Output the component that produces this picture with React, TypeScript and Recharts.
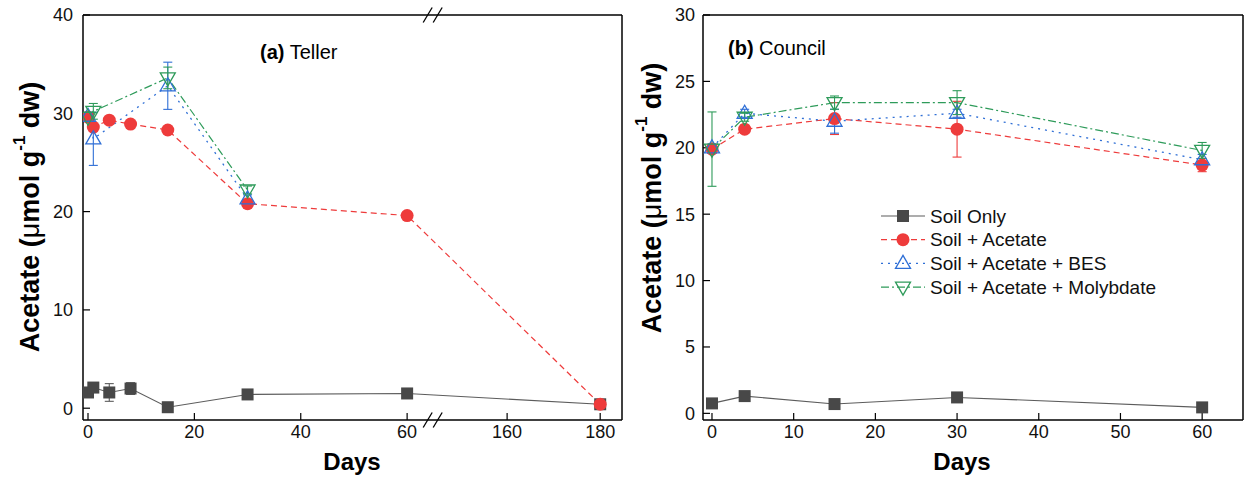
import React from 'react';
import { LineChart, Line, XAxis, YAxis, ErrorBar, ReferenceDot, Legend } from 'recharts';

const FONT = '"Liberation Sans", Arial, Helvetica, sans-serif';

// ---------- (a) Teller ----------
const tellerDays = [0, 1, 4, 8, 15, 30, 60, 180];
const tellerSoil = [1.6, 2.1, 1.6, 2.0, 0.1, 1.4, 1.5, 0.4];
const tellerSoilErr = [0.2, 0.2, 0.9, 0.6, 0.1, 0.1, 0.1, 0.1];
const tellerAcetate = [29.6, 28.6, 29.3, 28.9, 28.3, 20.8, 19.6, 0.4];
const tellerAcetateErr = [0.3, 0.3, 0.2, 0.2, 0.3, 0.4, 0.2, 0.1];
const tellerInhibDays = [0, 1, 15, 30];
const tellerBES = [29.7, 27.4, 32.8, 21.3];
const tellerBESErr = [0.4, 2.7, 2.4, 0.4];
const tellerMoly = [29.6, 30.2, 33.6, 22.2];
const tellerMolyErr = [0.4, 0.8, 1.1, 0.4];
const tellerTickDays = [0, 20, 40, 60, 160, 180];
const tellerYTicks = [0, 10, 20, 30, 40];

// ---------- (b) Council ----------
const councilDays = [0, 4, 15, 30, 60];
const councilSoil = [0.75, 1.3, 0.7, 1.2, 0.45];
const councilSoilErr = [0.1, 0.1, 0.1, 0.1, 0.1];
const councilAcetate = [19.9, 21.4, 22.2, 21.4, 18.7];
const councilAcetateErr = [0.3, 0.3, 1.2, 2.1, 0.5];
const councilBES = [20.0, 22.6, 22.0, 22.6, 19.1];
const councilBESErr = [0.3, 0.3, 0.9, 0.3, 0.4];
const councilMoly = [19.9, 22.3, 23.4, 23.4, 19.8];
const councilMolyErr = [2.8, 0.3, 0.5, 0.9, 0.6];
const councilXTicks = [0, 10, 20, 30, 40, 50, 60];
const councilYTicks = [0, 5, 10, 15, 20, 25, 30];

const legendLabels = ['Soil Only', 'Soil + Acetate', 'Soil + Acetate + BES', 'Soil + Acetate + Molybdate'];

// ---------- broken x axis (Teller) ----------
const BREAK_POS = 64.9; // where the "//" marks sit, in axis units
const SEG2_START_DAY = 160;
const SEG2_START_POS = 78.8;
const SEG2_SCALE = 0.875;
const brokenPos = (d: number) => (d <= 100 ? d : SEG2_START_POS + (d - SEG2_START_DAY) * SEG2_SCALE);
const tellerTicks = tellerTickDays.map(brokenPos);
const tellerTickFmt = (v: number) => {
  const i = tellerTicks.findIndex((t) => Math.abs(t - v) < 1e-6);
  return i >= 0 ? String(tellerTickDays[i]) : '';
};

type Kind = 'square' | 'circle' | 'tri' | 'invtri';
const STYLES: { kind: Kind; color: string; line: string; dash?: string; width: number }[] = [
  { kind: 'square', color: '#484848', line: '#5c5c5c', dash: undefined, width: 1.1 },
  { kind: 'circle', color: '#ee3b3b', line: '#ee3b3b', dash: '6 4', width: 1.2 },
  { kind: 'tri', color: '#2f6fd6', line: '#2f6fd6', dash: '2 5', width: 1.3 },
  { kind: 'invtri', color: '#2e9b5a', line: '#2e9b5a', dash: '8 3 2 3', width: 1.2 },
];

const mk = (days: number[], vals: number[], errs: number[], map: (d: number) => number) =>
  days.map((d, i) => ({ x: map(d), y: vals[i], err: errs[i] }));
const id = (d: number) => d;

const tellerData = [
  mk(tellerDays, tellerSoil, tellerSoilErr, brokenPos),
  mk(tellerDays, tellerAcetate, tellerAcetateErr, brokenPos),
  mk(tellerInhibDays, tellerBES, tellerBESErr, brokenPos),
  mk(tellerInhibDays, tellerMoly, tellerMolyErr, brokenPos),
];
const councilData = [
  mk(councilDays, councilSoil, councilSoilErr, id),
  mk(councilDays, councilAcetate, councilAcetateErr, id),
  mk(councilDays, councilBES, councilBESErr, id),
  mk(councilDays, councilMoly, councilMolyErr, id),
];

function Marker({ kind, cx, cy, color }: { kind: Kind; cx: number; cy: number; color: string }) {
  if (kind === 'square') return <rect x={cx - 6} y={cy - 6} width={12} height={12} fill={color} />;
  if (kind === 'circle') return <circle cx={cx} cy={cy} r={6.5} fill={color} />;
  if (kind === 'tri')
    return (
      <path
        d={`M${cx} ${cy - 8} L${cx + 7.5} ${cy + 5} L${cx - 7.5} ${cy + 5} Z`}
        fill="none"
        stroke={color}
        strokeWidth={1.3}
      />
    );
  return (
    <path
      d={`M${cx} ${cy + 8} L${cx + 7.5} ${cy - 5} L${cx - 7.5} ${cy - 5} Z`}
      fill="none"
      stroke={color}
      strokeWidth={1.3}
    />
  );
}

const makeDot = (kind: Kind, color: string) => (p: any) => {
  const { cx, cy, index } = p;
  if (typeof cx !== 'number' || typeof cy !== 'number') return <g key={`e${index}`} />;
  return (
    <g key={`d${index}`}>
      <Marker kind={kind} cx={cx} cy={cy} color={color} />
    </g>
  );
};

const breakShape = (p: any) => {
  const { cx, cy } = p;
  if (typeof cx !== 'number' || typeof cy !== 'number') return <g />;
  return (
    <g>
      <line x1={cx - 10} y1={cy + 7.5} x2={cx - 1} y2={cy - 7.5} stroke="#000" strokeWidth={1.3} />
      <line x1={cx} y1={cy + 7.5} x2={cx + 9} y2={cy - 7.5} stroke="#000" strokeWidth={1.3} />
    </g>
  );
};

const renderLegend = () => (
  <svg width={300} height={100} style={{ overflow: 'visible', display: 'block' }}>
    {legendLabels.map((lab, i) => {
      const s = STYLES[i];
      const y = 12 + i * 23.7;
      return (
        <g key={lab}>
          <line x1={0} y1={y} x2={44} y2={y} stroke={s.line} strokeWidth={s.width} strokeDasharray={s.dash} />
          <Marker kind={s.kind} cx={22} cy={y} color={s.color} />
          <text x={49} y={y} dominantBaseline="central" fontSize={19} fill="#111" fontFamily={FONT}>
            {lab}
          </text>
        </g>
      );
    })}
  </svg>
);

const tickStyle = { fontSize: 18, fill: '#111', fontFamily: FONT };
const axisLineStyle = { stroke: '#000', strokeWidth: 1.5 };
const tickLineStyle = { stroke: '#000', strokeWidth: 1.2 };

function renderLines(data: { x: number; y: number; err: number }[][], prefix: string) {
  return data.map((d, i) => {
    const s = STYLES[i];
    return (
      <Line
        key={`${prefix}${i}`}
        data={d}
        dataKey="y"
        type="linear"
        stroke={s.line}
        strokeWidth={s.width}
        strokeDasharray={s.dash}
        dot={makeDot(s.kind, s.color)}
        activeDot={false}
        isAnimationActive={false}
        legendType="none"
      >
        <ErrorBar dataKey="err" width={4.5} stroke={s.line} strokeWidth={1.1} direction="y" />
      </Line>
    );
  });
}

function YTitle({ x, y }: { x: number; y: number }) {
  return (
    <text
      transform={`translate(${x},${y}) rotate(-90)`}
      textAnchor="middle"
      dominantBaseline="central"
      fontSize={27}
      fontWeight="bold"
      fontFamily={FONT}
      fill="#000"
    >
      Acetate (<tspan fontWeight="normal">μ</tspan>mol g
      <tspan fontSize={17} dy={-11}>
        -1
      </tspan>
      <tspan dy={11}> dw)</tspan>
    </text>
  );
}

export default function App() {
  return (
    <div style={{ position: 'absolute', left: 0, top: 0, width: 1246, height: 482, background: '#fff', fontFamily: FONT }}>
      <div style={{ position: 'absolute', left: 0, top: 0 }}>
        <LineChart width={640} height={482} margin={{ top: 14, right: 17, bottom: 22, left: 23 }}>
          <XAxis
            dataKey="x"
            type="number"
            domain={[-0.94, 100.4]}
            ticks={tellerTicks}
            tickFormatter={tellerTickFmt}
            interval={0}
            allowDataOverflow
            height={40}
            tickSize={-7}
            tickMargin={12}
            tick={tickStyle}
            axisLine={axisLineStyle}
            tickLine={tickLineStyle}
          />
          <XAxis
            xAxisId="top"
            orientation="top"
            type="number"
            domain={[-0.94, 100.4]}
            ticks={tellerTicks}
            interval={0}
            allowDataOverflow
            height={1}
            tickSize={-7}
            tick={false}
            axisLine={axisLineStyle}
            tickLine={tickLineStyle}
          />
          <YAxis
            type="number"
            domain={[-1.2, 40]}
            ticks={tellerYTicks}
            interval={0}
            allowDataOverflow
            width={60}
            tickSize={-7}
            tickMargin={17}
            tick={tickStyle}
            axisLine={axisLineStyle}
            tickLine={tickLineStyle}
          />
          <YAxis
            yAxisId="r"
            orientation="right"
            type="number"
            domain={[-1.2, 40]}
            ticks={tellerYTicks}
            interval={0}
            allowDataOverflow
            width={1}
            tickSize={-7}
            tick={false}
            axisLine={axisLineStyle}
            tickLine={tickLineStyle}
          />
          {renderLines(tellerData, 't')}
          <ReferenceDot x={BREAK_POS} y={40} r={0} ifOverflow="visible" shape={breakShape} />
          <ReferenceDot x={BREAK_POS} y={-1.2} r={0} ifOverflow="visible" shape={breakShape} />
        </LineChart>
      </div>
      <div style={{ position: 'absolute', left: 640, top: 0 }}>
        <LineChart width={606} height={482} margin={{ top: 14, right: 2, bottom: 22, left: 8 }}>
          <XAxis
            dataKey="x"
            type="number"
            domain={[-1.1, 65]}
            ticks={councilXTicks}
            interval={0}
            allowDataOverflow
            height={40}
            tickSize={-7}
            tickMargin={12}
            tick={tickStyle}
            axisLine={axisLineStyle}
            tickLine={tickLineStyle}
          />
          <XAxis
            xAxisId="top"
            orientation="top"
            type="number"
            domain={[-1.1, 65]}
            ticks={councilXTicks}
            interval={0}
            allowDataOverflow
            height={1}
            tickSize={-7}
            tick={false}
            axisLine={axisLineStyle}
            tickLine={tickLineStyle}
          />
          <YAxis
            type="number"
            domain={[-0.5, 30]}
            ticks={councilYTicks}
            interval={0}
            allowDataOverflow
            width={55}
            tickSize={-7}
            tickMargin={15}
            tick={tickStyle}
            axisLine={axisLineStyle}
            tickLine={tickLineStyle}
          />
          <YAxis
            yAxisId="r"
            orientation="right"
            type="number"
            domain={[-0.5, 30]}
            ticks={councilYTicks}
            interval={0}
            allowDataOverflow
            width={1}
            tickSize={-7}
            tick={false}
            axisLine={axisLineStyle}
            tickLine={tickLineStyle}
          />
          {renderLines(councilData, 'c')}
          <Legend
            layout="vertical"
            align="center"
            verticalAlign="middle"
            content={renderLegend}
            wrapperStyle={{ left: 241, top: 204, width: 300, height: 100 }}
          />
        </LineChart>
      </div>
      <svg width={1246} height={482} style={{ position: 'absolute', left: 0, top: 0, pointerEvents: 'none' }}>
        <YTitle x={30} y={217} />
        <YTitle x={652} y={198} />
        <text x={352} y={470} textAnchor="middle" fontSize={24} fontWeight="bold" fontFamily={FONT}>
          Days
        </text>
        <text x={962} y={470} textAnchor="middle" fontSize={24} fontWeight="bold" fontFamily={FONT}>
          Days
        </text>
        <text x={260} y={59} fontSize={20} fontFamily={FONT} fill="#000">
          <tspan fontWeight="bold">(a)</tspan> Teller
        </text>
        <text x={728} y={55} fontSize={20} fontFamily={FONT} fill="#000">
          <tspan fontWeight="bold">(b)</tspan> Council
        </text>
      </svg>
    </div>
  );
}
